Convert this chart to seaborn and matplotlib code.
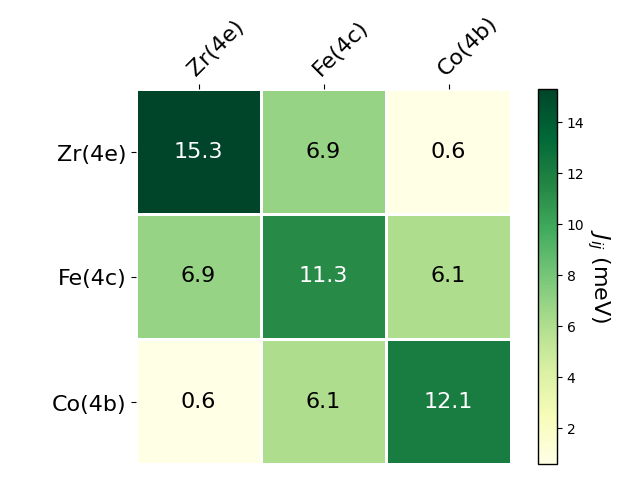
import matplotlib
matplotlib.use("Agg")
import matplotlib.pyplot as plt
import matplotlib.transforms as mtransforms
import seaborn as sns
import numpy as np
import pandas as pd

sites = ["Zr(4e)", "Fe(4c)", "Co(4b)"]
row_zr = [15.3, 6.9, 0.6]
row_fe = [6.9, 11.3, 6.1]
row_co = [0.6, 6.1, 12.1]

df = pd.DataFrame([row_zr, row_fe, row_co], index=sites, columns=sites)

fig = plt.figure(figsize=(6.4, 4.8), dpi=100)
ax = fig.add_axes([136/640, 1-464/480, 375/640, 375/480])
cax = fig.add_axes([538/640, 1-464/480, 19/640, 375/480])

sns.heatmap(df, ax=ax, cbar_ax=cax, cmap="YlGn", annot=True, fmt=".1f",
            annot_kws={"fontsize": 16}, linewidths=2, linecolor="white")

for t in ax.texts:
    if t.get_color() not in ("w", "white", "#ffffff"):
        t.set_color("black")

ax.xaxis.tick_top()
ax.set_xticklabels(sites, rotation=45, fontsize=16, ha="left", rotation_mode="anchor")
ax.set_yticklabels(sites, rotation=0, fontsize=16, va="center")
offset = mtransforms.ScaledTranslation(0, -3/100, fig.dpi_scale_trans)
for lab in ax.get_yticklabels():
    lab.set_transform(lab.get_transform() + offset)
ax.set_xlabel("")
ax.set_ylabel("")

cbar = ax.collections[0].colorbar
cbar.outline.set_visible(True)
cbar.outline.set_edgecolor("black")
cbar.outline.set_linewidth(1)
cbar.set_label("$J_{ij}$ (meV)", rotation=270, fontsize=16, labelpad=20)

fig.savefig("out.png", dpi=100)
